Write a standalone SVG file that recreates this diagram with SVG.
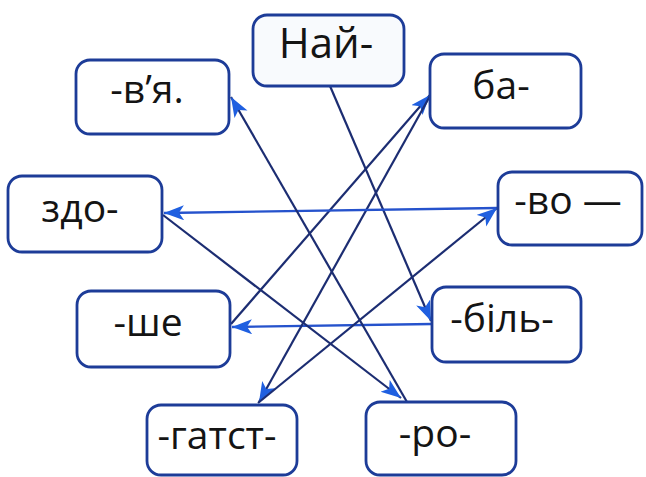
<svg xmlns="http://www.w3.org/2000/svg" width="646" height="477" viewBox="0 0 646 477">
<defs>
<style>
.box{fill:#ffffff;stroke:#1d3c98;stroke-width:2.8}
.lbl{font-family:"Open Sans","Noto Sans","DejaVu Sans",sans-serif;font-size:39px;fill:#141414;text-anchor:middle}
.ln{fill:none;stroke:#1c2d72;stroke-width:2.2}
.lh{fill:none;stroke:#2552cc;stroke-width:2.4}
</style>
<marker id="ah" markerUnits="userSpaceOnUse" markerWidth="22" markerHeight="16" refX="20" refY="7.5" orient="auto">
<path d="M0,0 L20,7.5 L0,15 L5,7.5 z" fill="#1f5fe0"/>
</marker>
</defs>
<rect width="646" height="477" fill="#ffffff"/>
<g id="connectors">
<line class="ln" x1="330" y1="86" x2="431" y2="321" marker-end="url(#ah)"/>
<line class="lh" x1="432" y1="324" x2="232" y2="327" marker-end="url(#ah)"/>
<line class="ln" x1="231" y1="324" x2="430" y2="95" marker-end="url(#ah)"/>
<line class="ln" x1="430" y1="96" x2="259" y2="402" marker-end="url(#ah)"/>
<line class="ln" x1="258" y1="403" x2="497" y2="208" marker-end="url(#ah)"/>
<line class="lh" x1="498" y1="208" x2="164" y2="213" marker-end="url(#ah)"/>
<line class="ln" x1="163" y1="215" x2="401" y2="398" marker-end="url(#ah)"/>
<line class="ln" x1="407" y1="402" x2="231" y2="97" marker-end="url(#ah)"/>
</g>
<g id="n-nai"><rect class="box" x="253" y="15" width="151" height="71" rx="14" style="fill:#f8fafd"/><text class="lbl" x="326" y="58" style="font-size:42px">Най-</text></g>
<g id="n-via"><rect class="box" x="76" y="60" width="153" height="74" rx="14"/><text class="lbl" x="147" y="103">-в’я.</text></g>
<g id="n-ba"><rect class="box" x="430" y="54" width="151" height="74" rx="14"/><text class="lbl" x="501" y="99">ба-</text></g>
<g id="n-zdo"><rect class="box" x="8" y="176" width="154" height="76" rx="14"/><text class="lbl" x="80" y="222">здо-</text></g>
<g id="n-vo"><rect class="box" x="498" y="172" width="144" height="73" rx="14"/><text class="lbl" x="568" y="214">-во —</text></g>
<g id="n-she"><rect class="box" x="77" y="291" width="153" height="76" rx="14"/><text class="lbl" x="148" y="336">-ше</text></g>
<g id="n-bil"><rect class="box" x="432" y="287" width="149" height="75" rx="14"/><text class="lbl" x="502" y="332">-біль-</text></g>
<g id="n-gatst"><rect class="box" x="147" y="405" width="150" height="70" rx="14"/><text class="lbl" x="217" y="449">-гатст-</text></g>
<g id="n-ro"><rect class="box" x="366" y="402" width="150" height="73" rx="14"/><text class="lbl" x="435" y="447">-ро-</text></g>
</svg>
